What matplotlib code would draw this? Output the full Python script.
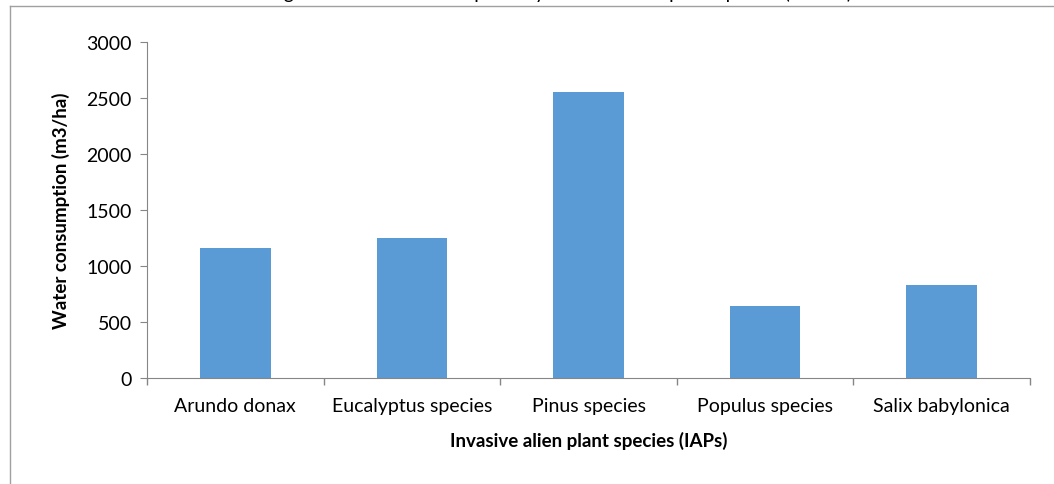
import matplotlib.pyplot as plt
from matplotlib.lines import Line2D

plt.rcParams['font.family'] = ['Lato', 'DejaVu Sans']

species = ['Arundo donax', 'Eucalyptus species', 'Pinus species',
           'Populus species', 'Salix babylonica']
water_use = [1160, 1250, 2550, 640, 830]
y_ticks = [0, 500, 1000, 1500, 2000, 2500, 3000]

title = 'Figure 3: Water consumption by invasive alien plant species (m3/ha)'
x_title = 'Invasive alien plant species (IAPs)'
y_title = 'Water consumption (m3/ha)'

fig = plt.figure(figsize=(10.54, 4.85), dpi=100)
ax = fig.add_axes([147 / 1054, 1 - 379 / 485, 883 / 1054, 336 / 485])

x = range(len(species))
ax.bar(x, water_use, width=0.40, color='#5B9BD5')

ax.set_xlim(-0.5, len(species) - 0.5)
ax.set_ylim(0, 3000)
ax.set_yticks(y_ticks)
ax.set_xticks(list(x))
ax.set_xticklabels(species, fontsize=14)
ax.set_xticks([i - 0.5 for i in range(len(species) + 1)], minor=True)
ax.tick_params(axis='x', which='major', length=0, pad=14)
ax.tick_params(axis='x', which='minor', length=5, color='#868686', width=1)
ax.tick_params(axis='y', length=5, color='#868686', labelsize=14, pad=6)

for s in ['top', 'right']:
    ax.spines[s].set_visible(False)
for s in ['left', 'bottom']:
    ax.spines[s].set_color('#868686')

ax.set_xlabel(x_title, fontsize=13.5, fontweight='bold', labelpad=12)
ax.set_ylabel(y_title, fontsize=13.5, fontweight='bold', labelpad=12)

# frame of the original chart area (left and top edges visible)
fig.add_artist(Line2D([10 / 1054, 10 / 1054], [0, 1 - 7 / 485],
                      transform=fig.transFigure, color='#A0A0A0', lw=1))
fig.add_artist(Line2D([10 / 1054, 1], [1 - 7 / 485, 1 - 7 / 485],
                      transform=fig.transFigure, color='#A0A0A0', lw=1))

# title is cut off at the top in the source image
fig.text(560 / 1054, 1 + 1 / 485, title, ha='center', va='baseline', fontsize=14)

plt.savefig('out.png', dpi=100)
